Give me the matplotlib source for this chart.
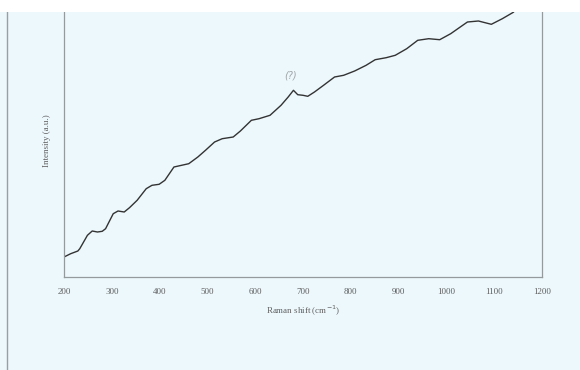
import matplotlib
matplotlib.use("Agg")
import matplotlib.pyplot as plt
from matplotlib.patches import Rectangle
from matplotlib.lines import Line2D

# Raman spectrum (intensity in arbitrary units)
shift = [200, 214, 229, 233, 249, 259, 270, 280, 287, 303, 313, 326, 337, 353,
         372, 384, 399, 411, 430, 446, 461, 480, 496, 515, 531, 554, 569, 592,
         608, 631, 654, 669, 680, 689, 700, 710, 724, 743, 766, 785, 808, 832,
         851, 874, 893, 917, 940, 963, 986, 1009, 1029, 1044, 1067, 1094, 1117,
         1140, 1160]
intensity = [20, 23.3, 26, 28.3, 41.7, 46, 45, 45.7, 48.3, 63.3, 66, 65, 69.3, 76.7,
             88.3, 91.7, 92.7, 96.7, 110, 111.7, 113.3, 120, 126.7, 135, 138.3, 140,
             146, 156.7, 158.3, 161.7, 171.7, 180, 186.7, 182.3, 181.7, 180.7, 185,
             191.7, 200, 201.7, 206, 211.7, 217.3, 219.3, 221.7, 228.3, 236.7, 238.3,
             237.3, 243.3, 250, 255, 256, 252.7, 258.3, 264.7, 275]
xticks = [200, 300, 400, 500, 600, 700, 800, 900, 1000, 1100, 1200]

bg = "#edf8fc"
fig = plt.figure(figsize=(5.8, 3.7), dpi=100, facecolor=bg)
ax = fig.add_axes([64 / 580, 1 - 277 / 370, (542 - 64) / 580, 277 / 370])
ax.set_facecolor(bg)
ax.plot(shift, intensity, color="#333333", lw=1.0)
ax.set_xlim(200, 1200)
ax.set_ylim(0, 277)
ax.set_yticks([])
ax.set_xticks(xticks)
ax.set_xticklabels([str(t) for t in xticks], family="Liberation Serif",
                   fontsize=6.5, color="#606060")
ax.tick_params(axis="x", length=0, pad=8)
for s in ["left", "bottom", "right"]:
    ax.spines[s].set_color("#959a9d")
    ax.spines[s].set_linewidth(0.9)
ax.spines["top"].set_visible(False)

ax.set_xlabel("Raman shift (cm$^{-1}$)", family="Liberation Serif",
              fontsize=6.5, color="#606060", labelpad=6)
fig.text(47 / 580, 1 - 141 / 370, "Intensity (a.u.)", rotation=90,
         family="Liberation Serif", fontsize=6.5, color="#606060",
         ha="center", va="center")

# pencil mark on the scan
ax.text(673, 201, "(?)", family="DejaVu Sans", style="italic", fontsize=7,
        color="#a0a6aa", ha="center", va="center")

# page edge line
fig.add_artist(Line2D([7 / 580, 7 / 580], [0, 1 - 12 / 370], color="#9a9fa2", lw=1))
# white strip along the top of the scan
fig.patches.append(Rectangle((0, 1 - 12 / 370), 1, 12 / 370, transform=fig.transFigure,
                             facecolor="white", edgecolor="none", zorder=10))

fig.savefig("out.png", dpi=100, facecolor=bg)
